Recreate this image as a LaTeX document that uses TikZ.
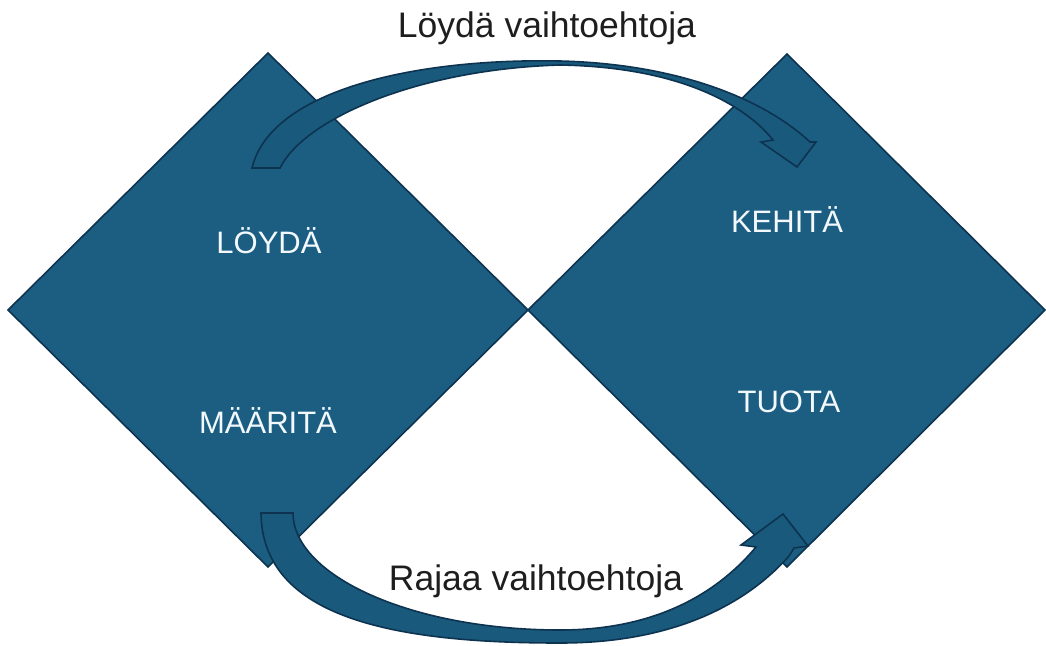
\documentclass[tikz,border=0pt]{standalone}
\usepackage{fontspec}
\setmainfont{Liberation Sans}
\definecolor{dfill}{HTML}{1B5E82}
\definecolor{afill}{HTML}{195A7C}
\definecolor{dline}{HTML}{0D3350}
\definecolor{ltext}{HTML}{F2F8FC}
\definecolor{ktext}{HTML}{1E1E1E}
\tikzset{
  dshape/.style={fill=dfill, draw=dline, line width=1.6pt, line join=miter},
  ashape/.style={fill=afill, draw=dline, line width=1.6pt, line join=miter},
  intext/.style={text=ltext, font=\fontsize{31}{34}\selectfont, anchor=base, inner sep=0pt},
  outtext/.style={text=ktext, font=\fontsize{35.5}{40}\selectfont, anchor=base, inner sep=0pt}
}
\begin{document}
\begin{tikzpicture}[x=1pt,y=-1pt]
\useasboundingbox (0,0) rectangle (1046,645);
% left diamond
\coordinate (LT) at (268,53);
\coordinate (LR) at (528,310);
\coordinate (LB) at (268,567);
\coordinate (LL) at (8,310);
% right diamond
\coordinate (RT) at (787,54);
\coordinate (RR) at (1045,310);
\coordinate (RB) at (787,567);
\coordinate (RL) at (528,310);
\path[dshape] (LT) -- (LR) -- (LB) -- (LL) -- cycle;
\path[dshape] (RT) -- (RR) -- (RB) -- (RL) -- cycle;
% top curved arrow
\coordinate (t1) at (252,168);
\coordinate (t2) at (280,168);
\coordinate (tmo) at (560,61);
\coordinate (tmi) at (560,65);
\coordinate (too) at (810,142);
\coordinate (trb) at (816,142);
\coordinate (ttip) at (797,167);
\coordinate (tlb) at (761,142);
\coordinate (tii) at (773,140);
\path[ashape] (t1) .. controls (270,92) and (410,58) .. (tmo)
  .. controls (680,64) and (765,100) .. (too)
  -- (trb) -- (ttip) -- (tlb) -- (tii)
  .. controls (745,105) and (680,67) .. (tmi)
  .. controls (420,69) and (305,118) .. (t2) -- cycle;
% bottom curved arrow
\coordinate (b1) at (261,513);
\coordinate (b2) at (293,513);
\coordinate (bmo) at (560,643);
\coordinate (bmi) at (560,630);
\coordinate (boo) at (789,556);
\coordinate (bob) at (794,548);
\coordinate (brb) at (808,546);
\coordinate (btip) at (783,514);
\coordinate (blb) at (741,545);
\coordinate (bii) at (756,547);
\path[ashape] (b1) .. controls (262,620) and (400,643) .. (bmo)
  .. controls (680,643) and (750,600) .. (boo)
  -- (bob) -- (brb) -- (btip) -- (blb) -- (bii)
  .. controls (720,590) and (660,630) .. (bmi)
  .. controls (410,630) and (293,575) .. (b2) -- cycle;
% labels
\node[intext] (loyda) at (269,253) {LÖYDÄ};
\node[intext] (maarita) at (268,433) {MÄÄRITÄ};
\node[intext] (kehita) at (787,232) {KEHITÄ};
\node[intext] (tuota) at (789,412) {TUOTA};
\node[outtext] (top) at (547,37) {Löydä vaihtoehtoja};
\node[outtext] (bottom) at (536,590) {Rajaa vaihtoehtoja};
\end{tikzpicture}
\end{document}
